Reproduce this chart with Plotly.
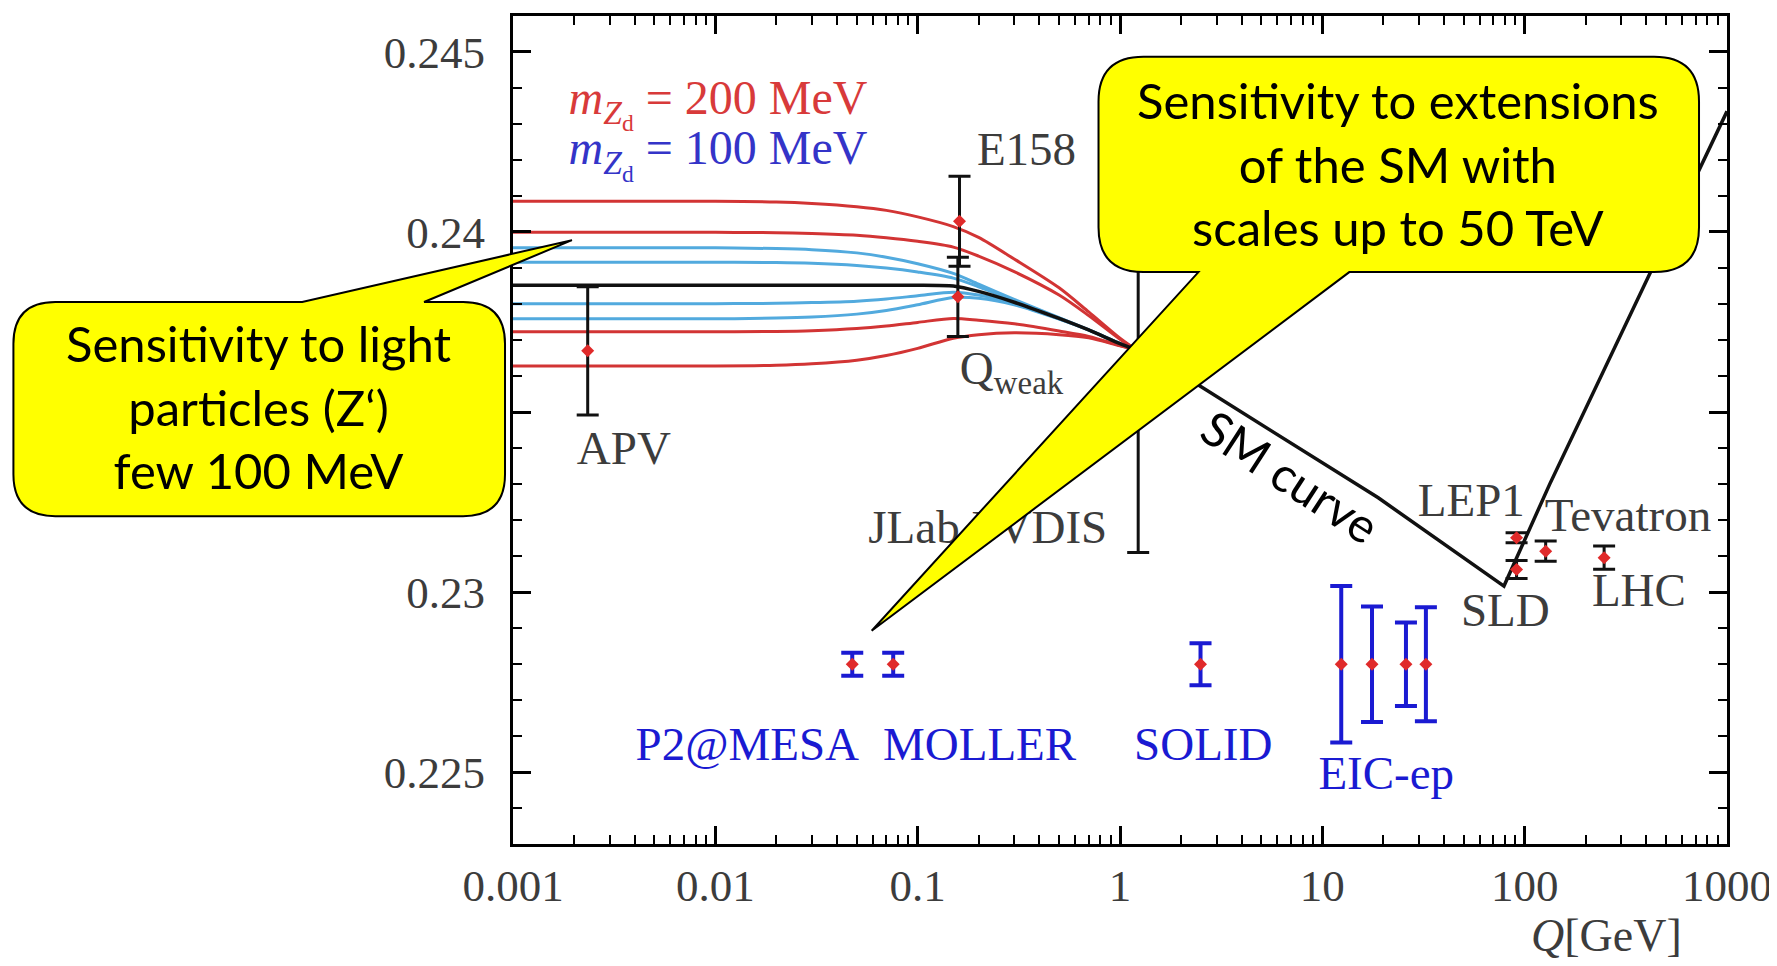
import plotly.graph_objects as go

# ---------------- values ----------------
# model curves (dark Z, m = 200 MeV red / 100 MeV blue) and the low-Q SM running
q_model = [0.001, 0.01, 0.02, 0.03, 0.05, 0.07, 0.1, 0.15, 0.2, 0.3, 0.5, 0.7, 1.0, 1.2]
sm_low = [0.23852, 0.23852, 0.23852, 0.23852, 0.23852, 0.23852, 0.23852, 0.23850, 0.23835, 0.23805, 0.23760, 0.23728, 0.23690, 0.23673]
red_1 = [0.24085, 0.24085, 0.24083, 0.24079, 0.24070, 0.24060, 0.24042, 0.24015, 0.23985, 0.23925, 0.23845, 0.23778, 0.23705, 0.23673]
red_2 = [0.23999, 0.23999, 0.23998, 0.23996, 0.23991, 0.23984, 0.23974, 0.23958, 0.23933, 0.23890, 0.23825, 0.23768, 0.23702, 0.23673]
red_3 = [0.23723, 0.23723, 0.23724, 0.23726, 0.23732, 0.23739, 0.23749, 0.23760, 0.23755, 0.23745, 0.23725, 0.23710, 0.23685, 0.23673]
red_4 = [0.23628, 0.23628, 0.23630, 0.23634, 0.23644, 0.23657, 0.23677, 0.23705, 0.23715, 0.23720, 0.23715, 0.23706, 0.23684, 0.23673]
blue_1 = [0.23956, 0.23956, 0.23954, 0.23951, 0.23942, 0.23930, 0.23912, 0.23885, 0.23855, 0.23813, 0.23762, 0.23728, 0.23690, 0.23673]
blue_2 = [0.23916, 0.23916, 0.23915, 0.23913, 0.23907, 0.23900, 0.23889, 0.23872, 0.23848, 0.23810, 0.23761, 0.23728, 0.23690, 0.23673]
blue_3 = [0.23801, 0.23801, 0.23802, 0.23804, 0.23808, 0.23814, 0.23823, 0.23833, 0.23825, 0.23801, 0.23759, 0.23728, 0.23690, 0.23673]
blue_4 = [0.23759, 0.23759, 0.23761, 0.23764, 0.23772, 0.23782, 0.23798, 0.23818, 0.23816, 0.23798, 0.23758, 0.23728, 0.23690, 0.23673]

# SM curve above 1.2 GeV
sm_high_q = [1.2, 2.44, 18.9, 79.0, 133.0, 420.0, 1000.0]
sm_high = [0.23673, 0.23575, 0.23262, 0.23017, 0.23300, 0.23892, 0.24335]

# existing measurements
exp_names = ["APV", "E158", "Qweak", "JLab PVDIS", "LEP1", "SLD", "Tevatron", "LHC"]
exp_q = [0.00234, 0.161, 0.158, 1.23, 91.2, 91.2, 127.0, 247.0]
exp_s2w = [0.2367, 0.2403, 0.2382, 0.2357, 0.23151, 0.23063, 0.23114, 0.23096]
exp_err = [0.00178, 0.00125, 0.0011, 0.0046, 0.00014, 0.00025, 0.00028, 0.00032]

# future experiments
fut_names = ["P2@MESA", "MOLLER", "SOLID", "EIC-ep 1", "EIC-ep 2", "EIC-ep 3", "EIC-ep 4"]
fut_q = [0.0475, 0.0757, 2.5, 12.4, 17.6, 25.9, 32.5]
fut_s2w = [0.2280, 0.2280, 0.2280, 0.2280, 0.2280, 0.2280, 0.2280]
fut_err = [0.00032, 0.00032, 0.00058, 0.00217, 0.00160, 0.00116, 0.00158]

x_tick_vals = [0.001, 0.01, 0.1, 1, 10, 100, 1000]
x_tick_text = ["0.001", "0.01", "0.1", "1", "10", "100", "1000"]
y_tick_vals = [0.225, 0.23, 0.235, 0.24, 0.245]
y_tick_text = ["0.225", "0.23", "0.235", "0.24", "0.245"]

# ---------------- layout geometry (page pixels) ----------------
BODY = 8                       # default body margin of the html page
FW, FH = 1769, 958             # figure size filling the window after the body margin
PL, PR, PT, PB = 513, 1728, 13, 844   # plot area on the page


def px(x, y):
    """page pixel position -> paper coordinates"""
    return (x - PL) / (PR - PL), (PB - y) / (PB - PT)


RED = "#d23434"
LBLUE = "#52aade"
BLACK = "#111111"
DRED = "#e02a2a"
FBLUE = "#1a1ad2"
GREY = "#3c3c3c"
SERIF = "Liberation Serif"
SANS = "Lato"

fig = go.Figure()

for ys in [blue_1, blue_2, blue_3, blue_4]:
    fig.add_trace(go.Scatter(x=q_model, y=ys, mode="lines", line=dict(color=LBLUE, width=3, shape="spline", smoothing=0.8),
                             showlegend=False, hoverinfo="skip"))
for ys in [red_1, red_2, red_3, red_4]:
    fig.add_trace(go.Scatter(x=q_model, y=ys, mode="lines", line=dict(color=RED, width=3, shape="spline", smoothing=0.8),
                             showlegend=False, hoverinfo="skip"))
fig.add_trace(go.Scatter(x=q_model, y=sm_low, mode="lines", line=dict(color=BLACK, width=3.5, shape="spline", smoothing=0.6),
                         showlegend=False))
fig.add_trace(go.Scatter(x=sm_high_q, y=sm_high, mode="lines", line=dict(color=BLACK, width=3.5),
                         showlegend=False))

fig.add_trace(go.Scatter(x=exp_q, y=exp_s2w, mode="markers", text=exp_names,
                         marker=dict(symbol="diamond", size=10, color=DRED),
                         error_y=dict(type="data", array=exp_err, color=BLACK, thickness=3, width=11),
                         showlegend=False))
fig.add_trace(go.Scatter(x=fut_q, y=fut_s2w, mode="markers", text=fut_names,
                         marker=dict(symbol="diamond", size=10, color=DRED),
                         error_y=dict(type="data", array=fut_err, color=FBLUE, thickness=4, width=11),
                         showlegend=False))

# text labels inside the plot (drawn as text traces so callouts can cover them)
labels = [
    ("APV", 0.00353, 0.23388, GREY, 47),
    ("E158", 0.345, 0.24218, GREY, 47),
    ("Q<sub>weak</sub>", 0.291, 0.23610, GREY, 47),
    ("JLab PVDIS", 0.222, 0.23169, GREY, 47),
    ("LEP1", 54.5, 0.23244, GREY, 47),
    ("Tevatron", 324.0, 0.23203, GREY, 47),
    ("SLD", 80.2, 0.2294, GREY, 47),
    ("LHC", 367.0, 0.22995, GREY, 47),
    ("P2@MESA", 0.01439, 0.22566, FBLUE, 47),
    ("MOLLER", 0.2023, 0.22566, FBLUE, 47),
    ("SOLID", 2.58, 0.22566, FBLUE, 47),
    ("EIC-ep", 20.7, 0.22486, FBLUE, 47),
    ("<i>m</i><sub><i>Z</i><sub>d</sub></sub> = 200 MeV", 0.01030, 0.24362, "#d83a3a", 48),
    ("<i>m</i><sub><i>Z</i><sub>d</sub></sub> = 100 MeV", 0.01030, 0.24221, "#3434c8", 48),
]
for t, xq, yv, c, fs in labels:
    fig.add_trace(go.Scatter(x=[xq], y=[yv], mode="text", text=[t], textposition="middle center",
                             textfont=dict(family=SERIF, size=fs, color=c), showlegend=False, hoverinfo="skip"))


def rounded_callout(x0, y0, x1, y1, r, ptr, side):
    """path for a rounded rectangle with a pointer; ptr = (base_a, base_b, tip)"""
    def P(x, y):
        a, b = px(x, y)
        return f"{a:.5f},{b:.5f}"
    (ba, bb, tip) = ptr
    s = f"M {P(x0 + r, y0)} "
    if side == "top":
        s += f"L {P(ba, y0)} L {P(tip[0], tip[1])} L {P(bb, y0)} "
    s += f"L {P(x1 - r, y0)} Q {P(x1, y0)} {P(x1, y0 + r)} L {P(x1, y1 - r)} Q {P(x1, y1)} {P(x1 - r, y1)} "
    if side == "bottom":
        s += f"L {P(ba, y1)} L {P(tip[0], tip[1])} L {P(bb, y1)} "
    s += f"L {P(x0 + r, y1)} Q {P(x0, y1)} {P(x0, y1 - r)} L {P(x0, y0 + r)} Q {P(x0, y0)} {P(x0 + r, y0)} Z"
    return s


shapes = [
    dict(type="path", xref="paper", yref="paper", layer="above",
         path=rounded_callout(13, 300, 505, 515, 42, (302, 424, (572, 238)), "top"),
         fillcolor="#ffff00", line=dict(color="black", width=2)),
    dict(type="path", xref="paper", yref="paper", layer="above",
         path=rounded_callout(1099, 54, 1700, 270, 45, (1350, 1199, (872, 630)), "bottom"),
         fillcolor="#ffff00", line=dict(color="black", width=2)),
]

annotations = []


def add_note(x, y, text, family, size, color, angle=0):
    a, b = px(x, y)
    annotations.append(dict(x=a, y=b, xref="paper", yref="paper", showarrow=False,
                            xanchor="center", yanchor="middle", align="center", textangle=angle,
                            text=text, font=dict(family=family, size=size, color=color)))


add_note(259, 405, "Sensitivity to light<br>particles (Z‘)<br>few 100 MeV", SANS, 49, "black")
add_note(1399, 161, "Sensitivity to extensions<br>of the SM with<br>scales up to 50 TeV", SANS, 49, "black")
add_note(1292, 475, "SM curve", SANS, 48, "black", 33)
add_note(1607, 936, "<i>Q</i>[GeV]", SERIF, 46, GREY)

x_minor = [m * 10 ** e for e in range(-3, 3) for m in range(2, 10)]

fig.update_layout(
    width=FW, height=FH, autosize=False,
    margin=dict(l=PL - BODY, r=FW - (PR - BODY), t=PT - BODY, b=FH - (PB - BODY), pad=0),
    paper_bgcolor="white", plot_bgcolor="white",
    shapes=shapes, annotations=annotations, showlegend=False,
    xaxis=dict(type="log", range=[-3, 3], tickvals=x_tick_vals, ticktext=x_tick_text,
               ticks="inside", ticklen=18, tickwidth=2.5, tickcolor="black",
               showline=True, linecolor="black", linewidth=3, mirror="ticks",
               showgrid=False, zeroline=False, ticklabelstandoff=0, ticklabeloverflow="allow",
               tickfont=dict(family=SERIF, size=45, color=GREY),
               minor=dict(tickvals=x_minor, ticks="inside", ticklen=9, tickwidth=2, tickcolor="black", showgrid=False)),
    yaxis=dict(range=[0.22301, 0.245996], tickvals=y_tick_vals, ticktext=y_tick_text,
               ticks="inside", ticklen=18, tickwidth=2.5, tickcolor="black",
               showline=True, linecolor="black", linewidth=3, mirror="ticks",
               showgrid=False, zeroline=False, ticklabelstandoff=16, ticklabeloverflow="allow",
               tickfont=dict(family=SERIF, size=45, color=GREY),
               minor=dict(dtick=0.001, tick0=0.225, ticks="inside", ticklen=9, tickwidth=2, tickcolor="black", showgrid=False)),
)

fig.write_html("out.html")
